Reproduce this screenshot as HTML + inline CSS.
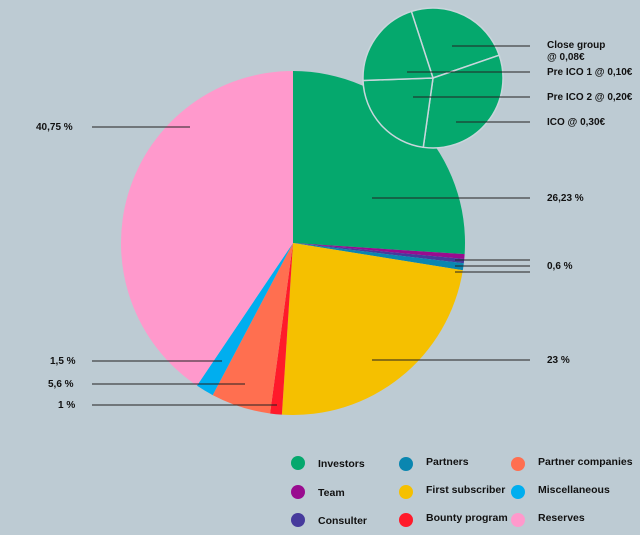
<!DOCTYPE html>
<html><head><meta charset="utf-8"><style>
body{margin:0;background:#bdcbd3;}
svg{display:block;font-family:"Liberation Sans",sans-serif;font-weight:bold;}
</style></head><body>
<svg id="c" width="640" height="535" viewBox="0 0 640 535"></svg>
<script>
const categories=["Investors","Team","Consulter","Partners","First subscriber","Bounty program","Partner companies","Miscellaneous","Reserves"];
const values=[26.03,0.45,0.4,0.65,23.5,1.1,5.6,1.7,40.57];
const colors=["#05a86d","#990b8f","#463a9c","#0a86b0","#f5c000","#ff1a2a","#ff6f50","#00aeef","#ff99cc"];
const subCategories=["Close group @ 0,08€","ICO @ 0,30€","Pre ICO 2 @ 0,20€","Pre ICO 1 @ 0,10€"];
const subValues=[89,117,80,74];
const subStart=-18;
const NS="http://www.w3.org/2000/svg";
const svg=document.getElementById('c');
function mk(t,a){const e=document.createElementNS(NS,t);for(const k in a)e.setAttribute(k,a[k]);svg.appendChild(e);return e;}
function pt(cx,cy,r,deg){const a=(deg-90)*Math.PI/180;return [cx+r*Math.cos(a),cy+r*Math.sin(a)];}
function arc(cx,cy,r,a0,a1){const p0=pt(cx,cy,r,a0),p1=pt(cx,cy,r,a1);const l=(a1-a0)>180?1:0;
return `M${cx},${cy}L${p0[0]},${p0[1]}A${r},${r} 0 ${l} 1 ${p1[0]},${p1[1]}Z`;}
const total=values.reduce((a,b)=>a+b,0);
let a=0;
values.forEach((v,i)=>{const s=v/total*360;
const p=mk('path',{d:arc(293,243,172,a,a+s),fill:colors[i]});

a+=s;});
const st=subValues.reduce((a,b)=>a+b,0);
let b=subStart;
subValues.forEach((v,i)=>{const s=v/st*360;const p=mk('path',{d:arc(433,78,70,b,b+s),fill:"#05a86d",stroke:"#c9d6dc","stroke-width":1.5});

b+=s;});
const lines=[[92,190,127],[92,222,361],[92,245,384],[92,277,405],[372,530,198],[455,530,260],[455,530,266],[455,530,272],[372,530,360],[452,530,46],[407,530,72],[413,530,97],[456,530,122]];
lines.forEach(l=>{const e=mk('line',{x1:l[0],x2:l[1],y1:l[2],y2:l[2],stroke:"#222","stroke-width":1});

});
const labels=[["40,75 %",36,130],["1,5 %",50,364],["5,6 %",48,387],["1 %",58,408],["26,23 %",547,201],["0,6 %",547,269],["23 %",547,363],["Close group",547,48],["@ 0,08€",547,60],["Pre ICO 1 @ 0,10€",547,75],["Pre ICO 2 @ 0,20€",547,100],["ICO @ 0,30€",547,125]];
labels.forEach(l=>{const t=mk('text',{x:l[1],y:l[2],"font-size":10,fill:"#111"});t.textContent=l[0];

});
const leg=[[0,298,463,318,467],[1,298,492,318,496],[2,298,520,318,524],[3,406,464,426,465],[4,406,492,426,493],[5,406,520,426,521],[6,518,464,538,465],[7,518,492,538,493],[8,518,520,538,521]];
leg.forEach(l=>{const c=mk('circle',{cx:l[1],cy:l[2],r:7,fill:colors[l[0]]});


const t=mk('text',{x:l[3],y:l[4],"font-size":10.5,fill:"#111"});t.textContent=categories[l[0]];

});
</script>
</body></html>
